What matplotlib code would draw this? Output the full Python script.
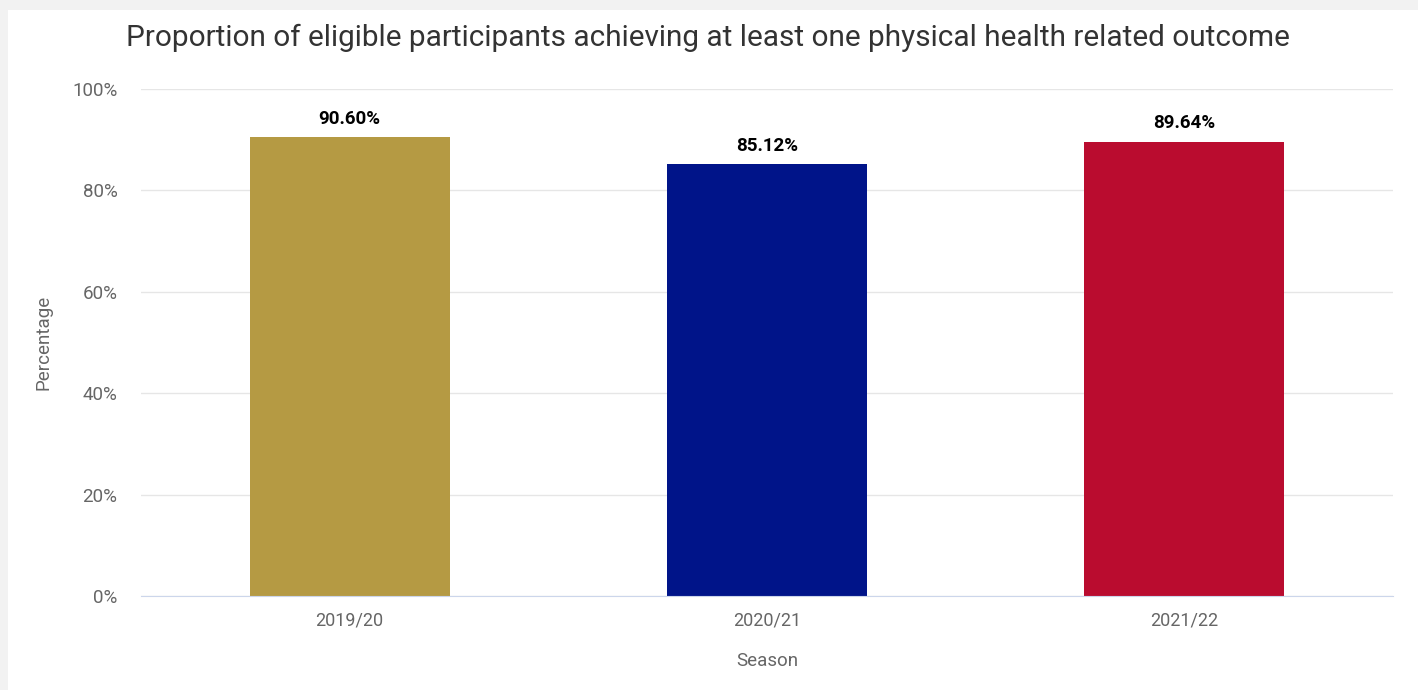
import matplotlib.pyplot as plt
from matplotlib.patches import Rectangle

seasons = ['2019/20', '2020/21', '2021/22']
values = [90.60, 85.12, 89.64]
colors = ['#b59a43', '#001489', '#ba0c2f']
yticks = [0, 20, 40, 60, 80, 100]

plt.rcParams['font.family'] = ['Roboto', 'DejaVu Sans']

fig = plt.figure(figsize=(14.18, 6.9), dpi=100)
fig.patch.set_facecolor('white')
# faint card shadow on the left and top edges
fig.patches.append(Rectangle((0, 0), 8 / 1418, 1, transform=fig.transFigure,
                             facecolor='#f2f2f2', edgecolor='none', zorder=0))
fig.patches.append(Rectangle((0, 1 - 10 / 690), 1, 10 / 690, transform=fig.transFigure,
                             facecolor='#f2f2f2', edgecolor='none', zorder=0))

ax = fig.add_axes([141 / 1418, 1 - 596 / 690, (1393 - 141) / 1418, (596 - 89) / 690])

x = range(len(seasons))
bars = ax.bar(x, values, width=0.48, color=colors, zorder=3)
for b, v in zip(bars, values):
    ax.text(b.get_x() + b.get_width() / 2, v + 1.8, '{0:.2f}%'.format(v),
            ha='center', va='bottom', fontsize=13.5, fontweight='bold', color='black')

ax.set_xlim(-0.5, 2.5)
ax.set_ylim(0, 100)
ax.set_yticks(yticks)
ax.set_yticklabels(['{0}%'.format(t) for t in yticks])
ax.set_xticks(list(x))
ax.set_xticklabels(seasons)
ax.tick_params(axis='both', length=0, labelcolor='#666666')
ax.tick_params(axis='y', pad=17, labelsize=13.5)
ax.tick_params(axis='x', pad=11, labelsize=13)

ax.grid(axis='y', color='#e6e6e6', linewidth=1, zorder=0)
for s in ['top', 'right', 'left']:
    ax.spines[s].set_visible(False)
ax.spines['bottom'].set_color('#ccd6eb')
ax.spines['bottom'].set_zorder(4)

ax.set_xlabel('Season', fontsize=13.5, color='#666666', labelpad=16)
ax.set_ylabel('Percentage', fontsize=13.5, color='#666666', labelpad=14)

fig.text(708 / 1418, 1 - 38 / 690,
         'Proportion of eligible participants achieving at least one physical health related outcome',
         ha='center', va='center', fontsize=21.4, color='#333333')

fig.savefig('out.png', dpi=100)
